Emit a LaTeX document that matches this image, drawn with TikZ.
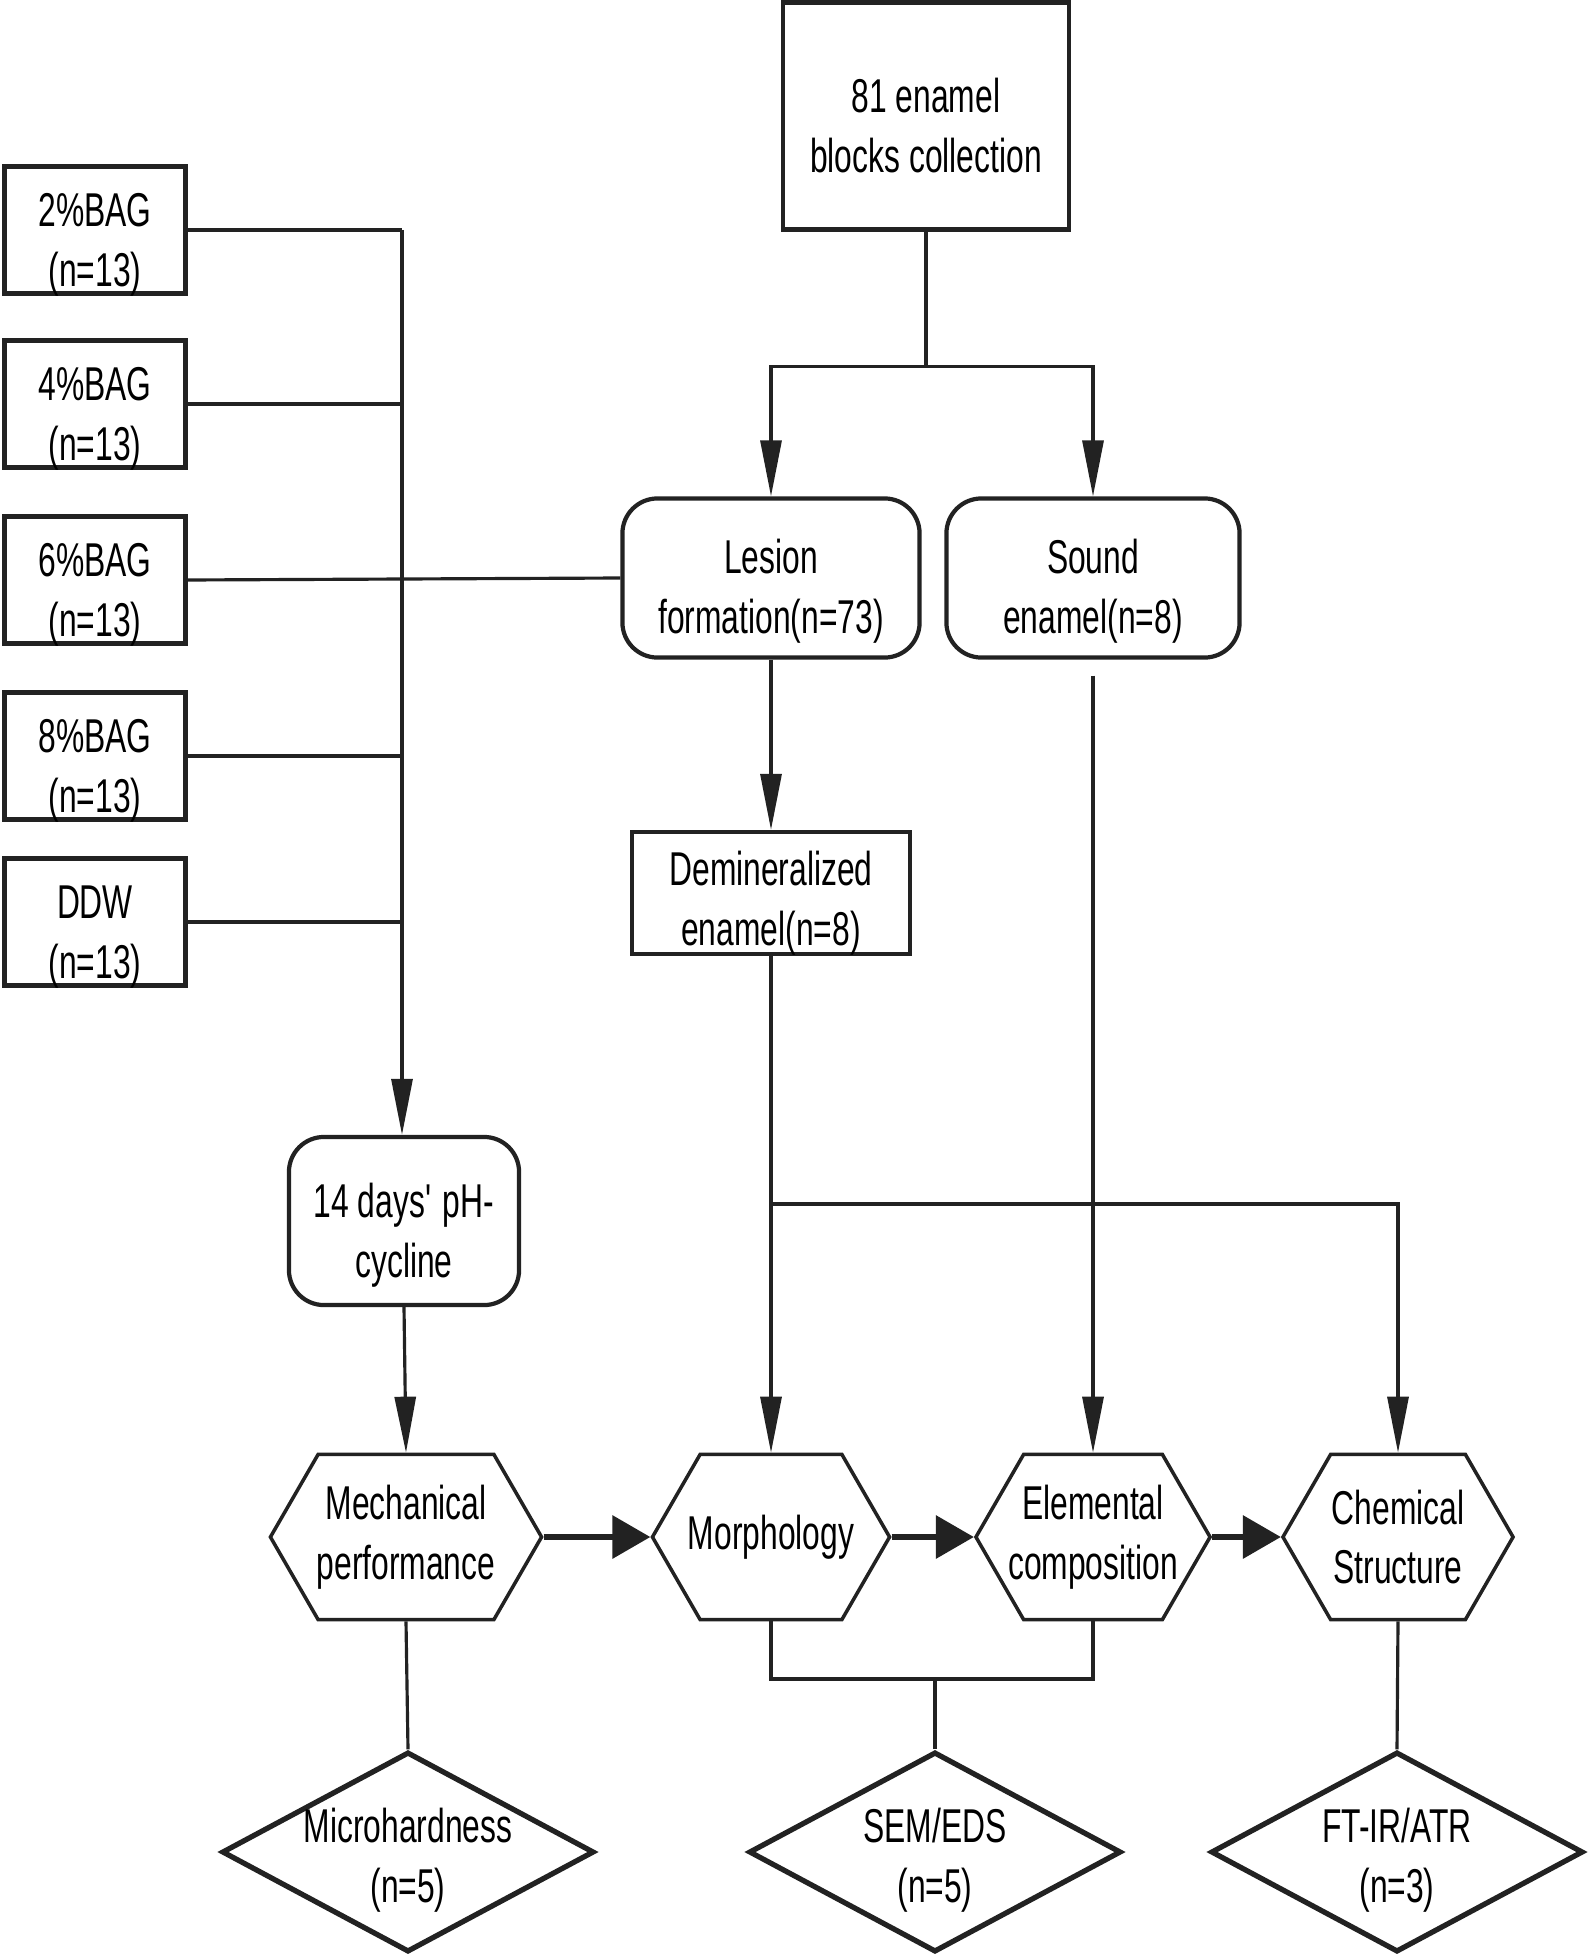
\documentclass[tikz,border=0pt]{standalone}
\usepackage{fontspec}
\setmainfont[FakeStretch=0.67]{Liberation Sans}
\usetikzlibrary{shapes.geometric, shapes.symbols, arrows.meta, positioning, calc}
\definecolor{FlowBlack}{HTML}{222222}
\definecolor{FlowWhite}{HTML}{FFFFFF}
\tikzset{
    textdrop/.style={
        execute at begin node={\rule{0pt}{#1}}
    },
    groupbox/.style={
        draw=FlowBlack,
        line width=1.2pt,
        fill=FlowWhite,
        minimum width=1.81cm,
        minimum height=1.27cm,
        align=center,
        inner xsep=2pt,
        inner ysep=-0.06cm,
        textdrop=1.23cm
    },
    mainbox/.style={
        draw=FlowBlack,
        line width=1.2pt,
        fill=FlowWhite,
        minimum width=#1,
        align=center,
        inner sep=2pt
    },
    mainbox/.default=2.86cm,
    stagebox/.style={
        draw=FlowBlack,
        line width=1.2pt,
        fill=FlowWhite,
        rounded corners=0.35cm,
        minimum width=#1,
        minimum height=1.59cm,
        align=center,
        inner sep=2pt,
        textdrop=1.21cm
    },
    stagebox/.default=2.95cm,
    testbox/.style={
        draw=FlowBlack,
        line width=1pt,
        fill=FlowWhite,
        shape=signal,
        signal to=west and east,
        signal pointer angle=120,
        minimum width=#1,
        minimum height=1.65cm,
        align=center,
        inner xsep=-0.18cm,
        inner ysep=1pt
    },
    testbox/.default=2.34cm,
    probe/.style={
        draw=FlowBlack,
        line width=1.5pt,
        fill=FlowWhite,
        shape=diamond,
        minimum width=3.72cm,
        minimum height=2cm,
        inner sep=0pt
    },
    probetext/.style={
        align=center,
        inner sep=0pt
    },
    link/.style={
        line width=0.9pt,
        FlowBlack
    },
    arrow/.style={
        -{Triangle[length=0.56cm,width=0.21cm]},
        line width=0.9pt,
        FlowBlack
    },
    bigarrow/.style={
        -{Triangle[length=0.38cm,width=0.42cm]},
        line width=1.8pt,
        FlowBlack
    }
}
\begin{document}
\begin{tikzpicture}[x=0.01cm, y=-0.01cm, font=\fontsize{13.5}{17}\selectfont]
        \useasboundingbox (0,0) rectangle (1594,1955);

        % Sample collection and lesion formation
        \node[mainbox, minimum height=2.27cm, textdrop=1.13cm] (coll) at (926,116) {81 enamel\\blocks collection};
        \node[stagebox=2.97cm] (lesion) at (771,578) {Lesion\\formation(n=73)};
        \node[stagebox=2.93cm] (sound) at (1093,578) {Sound\\enamel(n=8)};
        \node[mainbox=2.78cm, minimum height=1.22cm, inner ysep=-0.06cm, textdrop=1.15cm] (demin) at (771,893) {Demineralized\\enamel(n=8)};

        % Treatment groups
        \node[groupbox] (bag2) at (95,230) {2\%BAG\\(n=13)};
        \node[groupbox] (bag4) at (95,404) {4\%BAG\\(n=13)};
        \node[groupbox] (bag6) at (95,580) {6\%BAG\\(n=13)};
        \node[groupbox] (bag8) at (95,756) {8\%BAG\\(n=13)};
        \node[groupbox] (ddw) at (95,922) {DDW\\(n=13)};
        \node[stagebox=2.30cm, minimum height=1.68cm, textdrop=1.23cm] (ph) at (404,1221) {14 days\textquotesingle{} pH-\\cycline};

        % Evaluations
        \node[testbox=2.71cm] (mech) at (406,1537) {Mechanical\\performance};
        \node[testbox=2.37cm] (morph) at (771,1537) {Morphology};
        \node[testbox] (elem) at (1093,1537) {Elemental\\composition};
        \node[testbox=2.30cm] (chem) at (1398,1537) {Chemical\\Structure};

        % Methods
        \node[probe] (hard) at (408,1852) {};
        \node[probetext] (hardtxt) at ([yshift=-0.08cm]hard.center) {Microhardness\\(n=5)};
        \node[probe] (sem) at (935,1852) {};
        \node[probetext] (semtxt) at ([yshift=-0.08cm]sem.center) {SEM/EDS\\(n=5)};
        \node[probe] (ftir) at (1397,1852) {};
        \node[probetext] (ftirtxt) at ([yshift=-0.08cm]ftir.center) {FT-IR/ATR\\(n=3)};

        % Connectors
        \coordinate (split) at ($(coll.south)+(0,135)$);
        \draw[link] (coll.south) -- (split);
        \draw[arrow] (split) -| (lesion.north);
        \draw[arrow] (split) -| (sound.north);
        \draw[arrow] (lesion.south) -- (demin.north);

        \coordinate (bus) at (402,230);
        \draw[link] (bag2.east) -- (bus);
        \draw[arrow] (bus) -- (bus |- ph.north);
        \draw[link] (bag4.east) -- (bag4.east -| bus);
        \draw[link] (bag6.east) -- (lesion.west);
        \draw[link] (bag8.east) -- (bag8.east -| bus);
        \draw[link] (ddw.east) -- (ddw.east -| bus);
        \draw[arrow] (ph.south) -- (mech.north);

        \coordinate (hub) at (771,1204);
        \draw[arrow] (demin.south) -- (morph.north);
        \draw[arrow] (hub) -| (chem.north);
        \draw[arrow] ([yshift=-0.16cm]sound.south) -- (elem.north);

        \draw[bigarrow] (mech.east) -- (morph.west);
        \draw[bigarrow] (morph.east) -- (elem.west);
        \draw[bigarrow] (elem.east) -- (chem.west);

        \coordinate (semjoin) at (935,1679);
        \draw[link] (mech.south) -- (hard.north);
        \draw[link] (morph.south) |- (semjoin) -| (elem.south);
        \draw[link] (semjoin) -- (sem.north);
        \draw[link] (chem.south) -- (ftir.north);
    \end{tikzpicture}
\end{document}
